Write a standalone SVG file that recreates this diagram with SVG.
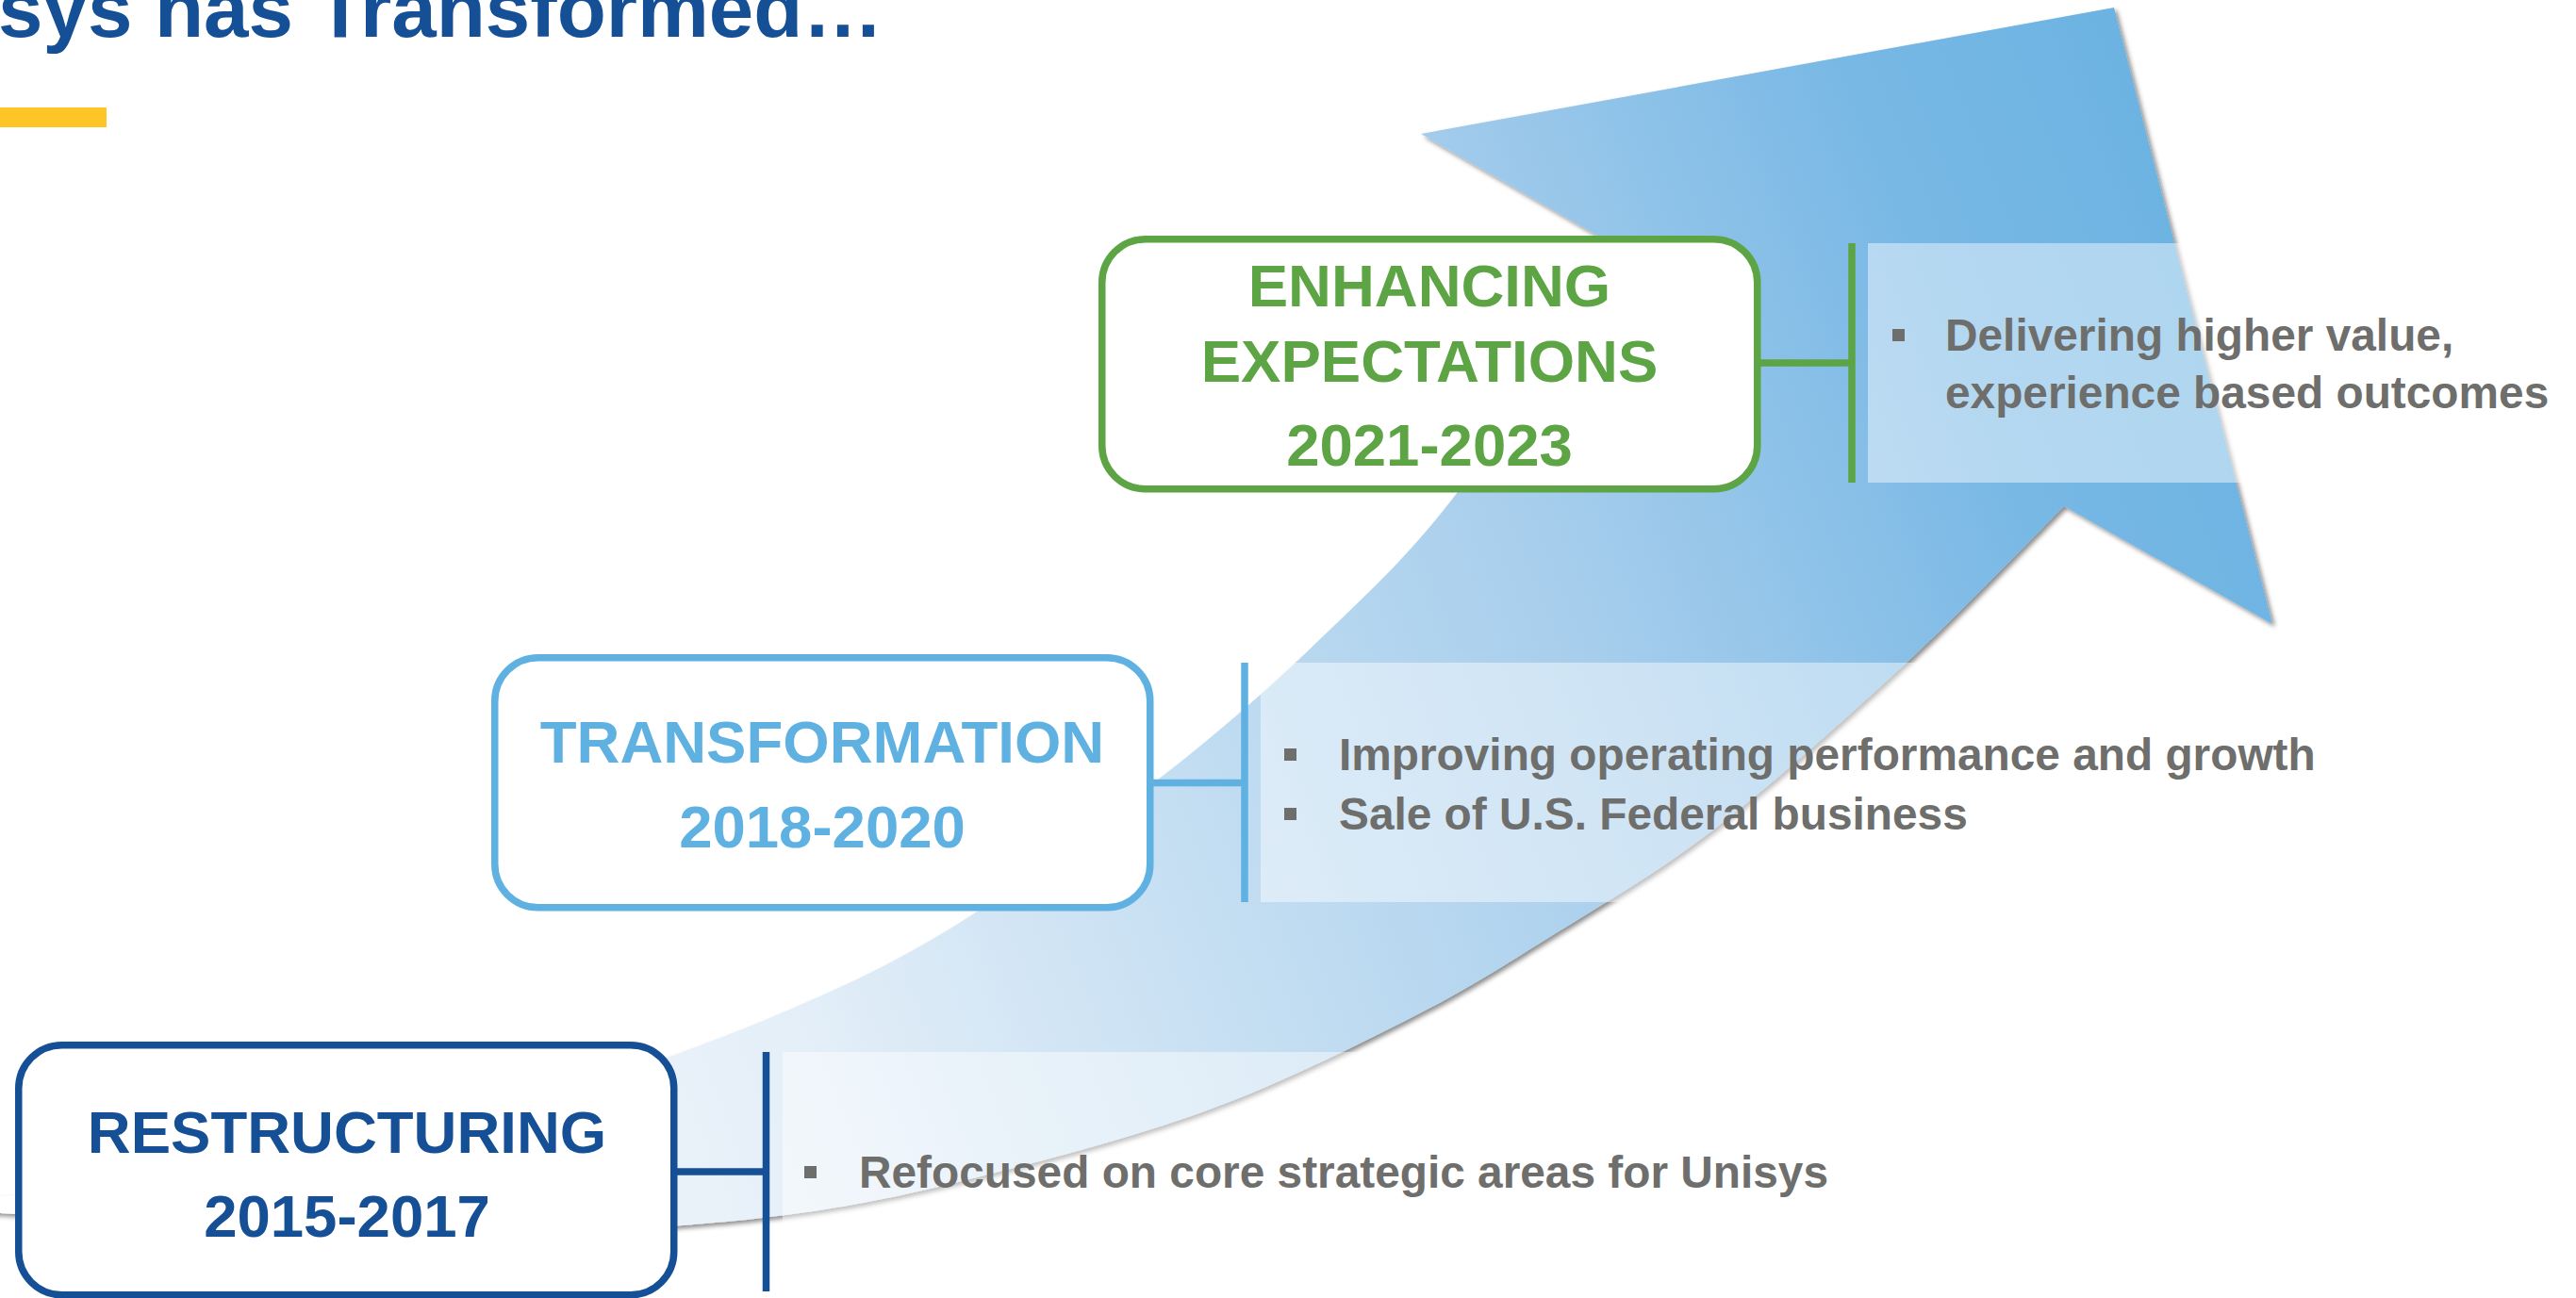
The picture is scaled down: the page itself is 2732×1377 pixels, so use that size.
<svg xmlns="http://www.w3.org/2000/svg" width="2732" height="1377" viewBox="0 0 2732 1377">
  <style>
    .title { font-family: "Liberation Sans", Arial, sans-serif; font-weight: bold; font-size: 85.3px; fill: #154F96; }
    .stage { font-family: "Liberation Sans", Arial, sans-serif; font-weight: bold; font-size: 63.5px; text-anchor: middle; }
    .item { font-family: "Liberation Sans", Arial, sans-serif; font-weight: bold; font-size: 47.8px; fill: #6E6E6C; }
    .dot { fill: #6E6E6C; }
    .box { fill: #FFFFFF; stroke-width: 7.5; }
    .band { fill: #FFFFFF; fill-opacity: 0.45; }
    .link { fill: none; stroke-width: 7.5; }
    .navy { stroke: #154F96; }
    .sky { stroke: #5FB1E2; }
    .leaf { stroke: #5DA445; }
  </style>
  <defs>
    <linearGradient id="swooshFill" gradientUnits="userSpaceOnUse" x1="-441" y1="177" x2="1930" y2="-772">
      <stop offset="0" stop-color="#FFFFFF"/>
      <stop offset="0.327" stop-color="#E5EFF8"/>
      <stop offset="0.516" stop-color="#C4DEF2"/>
      <stop offset="0.641" stop-color="#B0D3EE"/>
      <stop offset="0.703" stop-color="#A6CDEC"/>
      <stop offset="0.888" stop-color="#78B8E5"/>
      <stop offset="1" stop-color="#6CB3E2"/>
    </linearGradient>
    <filter id="softShadow" x="-5%" y="-5%" width="110%" height="110%">
      <feDropShadow dx="3" dy="3" stdDeviation="2.5" flood-color="#000000" flood-opacity="0.45"/>
    </filter>
  </defs>

  <rect x="0" y="0" width="2732" height="1377" fill="#FFFFFF"/>

  <!-- heading -->
  <g id="heading">
    <text class="title" x="-2" y="39">sys has Transformed…</text>
    <rect x="0" y="114" width="113" height="21" fill="#FFC425"/>
  </g>

  <!-- rising curved arrow -->
  <g id="growth-arrow">
    <path fill="url(#swooshFill)" filter="url(#softShadow)" d="
      M -150 1280
      C -125 1281.2 -75 1283.2 0 1287
      C 75 1290.8 200 1299.8 300 1303
      C 400 1306.2 511.2 1308.3 600 1306
      C 688.8 1303.7 761 1298.3 833 1289
      C 905 1279.7 957.5 1268.5 1032 1250
      C 1106.5 1231.5 1202.7 1206.3 1280 1178
      C 1357.3 1149.7 1434.3 1111.3 1496 1080
      C 1557.7 1048.7 1596 1023.7 1650 990
      C 1704 956.3 1757.8 926 1820 878
      C 1882.2 830 1961.5 758.8 2023 702
      C 2084.5 645.2 2161.3 564.5 2189 537
      L 2410 662
      L 2242 8
      L 1507 142
      L 1717 263
      C 1688.5 306.2 1599.2 452.5 1546 522
      C 1492.8 591.5 1449.5 630.3 1398 680
      C 1346.5 729.7 1300.7 770 1237 820
      C 1173.3 870 1086.2 936.7 1016 980
      C 945.8 1023.3 892 1048.3 816 1080
      C 740 1111.7 654.3 1142.5 560 1170
      C 465.7 1197.5 368.3 1226.7 250 1245
      C 131.7 1263.3 -83.3 1274.2 -150 1280 Z"/>
  </g>

  <!-- detail panels -->
  <g id="detail-restructuring">
    <rect class="band" x="830" y="1116" width="1902" height="254"/>
    <rect class="dot" x="853" y="1237" width="13" height="13"/>
    <text class="item" x="911" y="1260">Refocused on core strategic areas for Unisys</text>
  </g>
  <g id="detail-transformation">
    <rect class="band" x="1337" y="703" width="1395" height="254"/>
    <rect class="dot" x="1362" y="794" width="13" height="13"/>
    <text class="item" x="1420" y="817">Improving operating performance and growth</text>
    <rect class="dot" x="1362" y="857" width="13" height="13"/>
    <text class="item" x="1420" y="880">Sale of U.S. Federal business</text>
  </g>
  <g id="detail-enhancing">
    <rect class="band" x="1981" y="258" width="751" height="254"/>
    <rect class="dot" x="2007" y="349" width="13" height="13"/>
    <text class="item" x="2063" y="372">Delivering higher value,</text>
    <text class="item" x="2063" y="433">experience based outcomes</text>
  </g>

  <!-- stage boxes -->
  <g id="stage-restructuring">
    <rect class="box navy" x="19.75" y="1108.75" width="695" height="265" rx="46" ry="46"/>
    <text class="stage" x="368" y="1223" fill="#154F96">RESTRUCTURING</text>
    <text class="stage" x="368" y="1312" fill="#154F96">2015-2017</text>
  </g>
  <g id="stage-transformation">
    <rect class="box sky" x="524.75" y="697.75" width="695" height="265" rx="46" ry="46"/>
    <text class="stage" x="872" y="809" fill="#5FB1E2">TRANSFORMATION</text>
    <text class="stage" x="872" y="899" fill="#5FB1E2">2018-2020</text>
  </g>
  <g id="stage-enhancing">
    <rect class="box leaf" x="1168.75" y="253.75" width="695" height="265" rx="46" ry="46"/>
    <text class="stage" x="1516" y="325" fill="#5DA445">ENHANCING</text>
    <text class="stage" x="1516" y="405" fill="#5DA445">EXPECTATIONS</text>
    <text class="stage" x="1516" y="494" fill="#5DA445">2021-2023</text>
  </g>

  <!-- bracket connectors from each box to its detail panel -->
  <g id="connectors">
    <path class="link navy" d="M 718 1243 H 812.5 M 812.5 1116 V 1370"/>
    <path class="link sky" d="M 1223 830.5 H 1320 M 1320 703 V 957"/>
    <path class="link leaf" d="M 1867 385 H 1964 M 1964 258 V 512"/>
  </g>
</svg>
